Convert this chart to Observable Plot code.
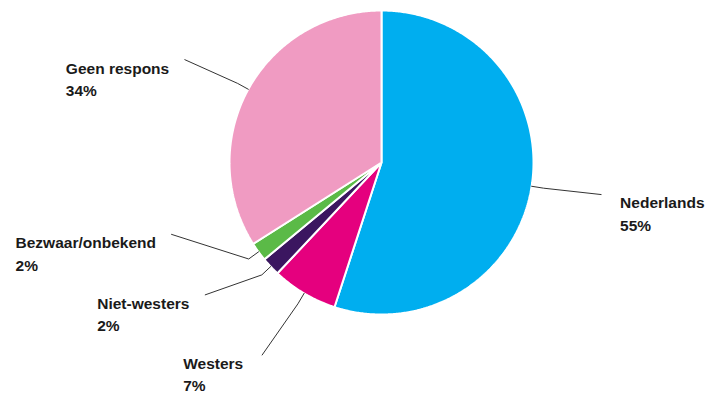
<!DOCTYPE html>
<html>
<head>
<meta charset="utf-8">
<script src="https://cdn.jsdelivr.net/npm/d3@7"></script>
<script src="https://cdn.jsdelivr.net/npm/@observablehq/plot@0.6"></script>
<style>
  html, body { margin: 0; padding: 0; background: #fff; }
  #chart svg { display: block; }
</style>
</head>
<body>
<div id="chart"></div>
<script>
// ---- data ----
const categories = ["Nederlands", "Westers", "Niet-westers", "Bezwaar/onbekend", "Geen respons"];
const shares = [55, 7, 2, 2, 34];
const colors = ["#00AEEF", "#E5007E", "#3B1660", "#5BBA47", "#F09BC2"];

// ---- layout (label placement) ----
const labelAngleDeg = [98.3, 211.8, 233.1, 251.1, 297.6];
const labelRadius = [1.46, 1.49, 1.45, 1.46, 1.46];
const labelDx = [19, -79, -108, -156, -119];

const W = 709, H = 394, CX = 381, CY = 162, R = 152;

const arcs = d3.pie().sort(null).value(d => d)(shares);
const pt = (a, r) => ({ x: Math.sin(a) * r, y: Math.cos(a) * r });

const slicePts = [];
arcs.forEach((arc, i) => {
  slicePts.push({ cat: categories[i], color: colors[i], ...pt(0, 0) });
  const n = Math.max(2, Math.ceil((arc.endAngle - arc.startAngle) / (Math.PI / 360)));
  for (let k = 0; k <= n; k++) {
    const a = arc.startAngle + (arc.endAngle - arc.startAngle) * k / n;
    slicePts.push({ cat: categories[i], color: colors[i], ...pt(a, 1) });
  }
});

const leaderPts = [];
const labels = [];
arcs.forEach((arc, i) => {
  const mid = (arc.startAngle + arc.endAngle) / 2;
  const la = labelAngleDeg[i] * Math.PI / 180;
  const end = pt(la, labelRadius[i]);
  leaderPts.push({ cat: categories[i], ...pt(mid, 1) });
  leaderPts.push({ cat: categories[i], ...pt(mid, 1.08) });
  leaderPts.push({ cat: categories[i], ...end });
  labels.push({ text: categories[i] + "\n" + shares[i] + "%", x: end.x + labelDx[i] / R, y: end.y });
});

const chart = Plot.plot({
  width: W,
  height: H,
  margin: 0,
  x: { domain: [-CX / R, (W - CX) / R], axis: null },
  y: { domain: [-(H - CY) / R, CY / R], axis: null },
  style: { fontFamily: "'Liberation Sans', Arial, sans-serif", background: "#fff" },
  marks: [
    Plot.line(slicePts, {
      x: "x", y: "y", z: "cat",
      fill: d => d.color,
      stroke: "white", strokeWidth: 2, strokeLinejoin: "miter",
      curve: "linear-closed"
    }),
    Plot.line(leaderPts, { x: "x", y: "y", z: "cat", stroke: "#333", strokeWidth: 1 }),
    Plot.text(labels, {
      x: "x", y: "y", text: "text",
      textAnchor: "start", lineAnchor: "top", lineHeight: 1.45,
      fontSize: 15.5, fontWeight: "bold", fill: "#1a1a1a", dy: -2
    })
  ]
});
document.getElementById("chart").appendChild(chart);
</script>
</body>
</html>
